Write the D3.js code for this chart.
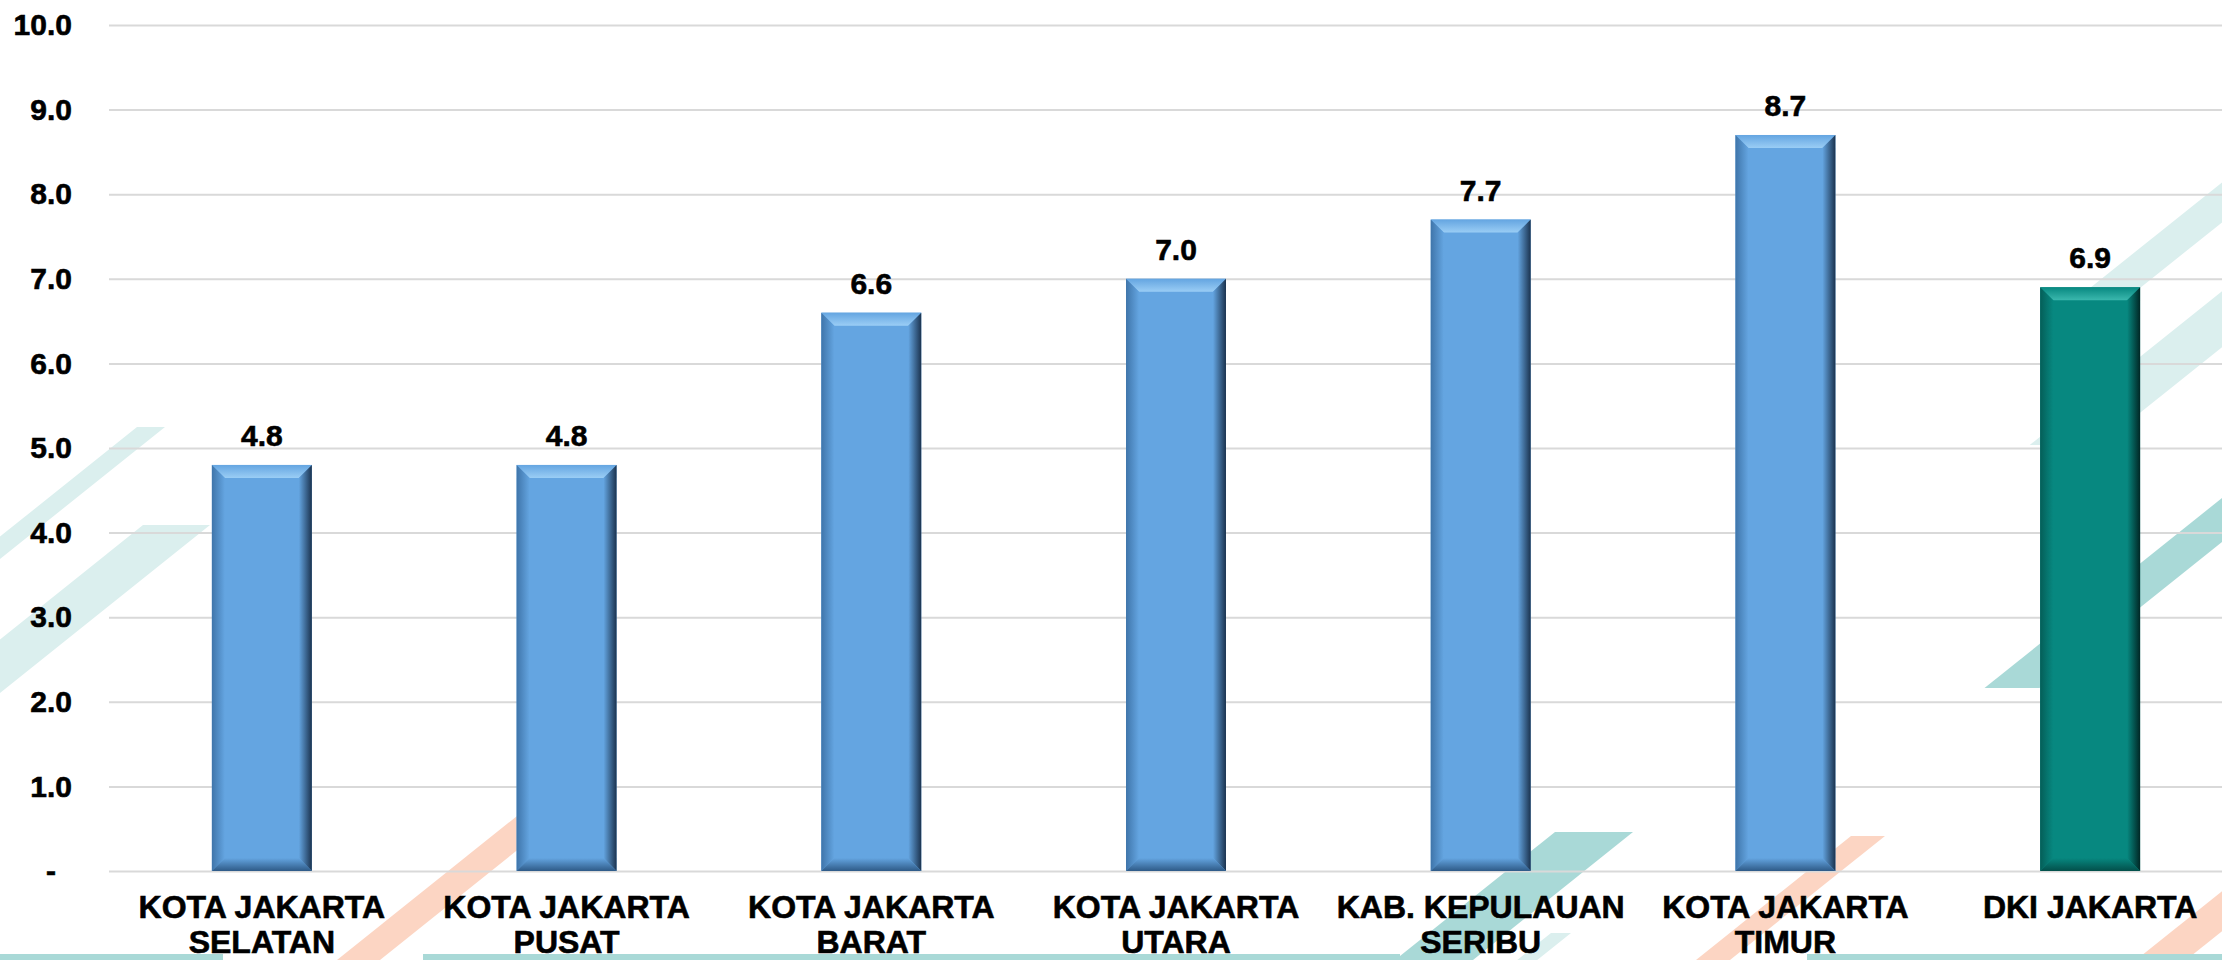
<!DOCTYPE html>
<html>
<head>
<meta charset="utf-8">
<script src="https://cdn.jsdelivr.net/npm/d3@7"></script>
<style>
  html, body { margin: 0; padding: 0; background: #ffffff; }
  svg { display: block; }
</style>
</head>
<body>
<div id="chart"></div>
<script>
// data
const categories = [
    "KOTA JAKARTA\nSELATAN",
    "KOTA JAKARTA\nPUSAT",
    "KOTA JAKARTA\nBARAT",
    "KOTA JAKARTA\nUTARA",
    "KAB. KEPULAUAN\nSERIBU",
    "KOTA JAKARTA\nTIMUR",
    "DKI JAKARTA"
];
const values = [4.8, 4.8, 6.6, 7.0, 7.7, 8.7, 6.9];
const yTicks = [0, 1, 2, 3, 4, 5, 6, 7, 8, 9, 10];
const totalLabel = "DKI JAKARTA";

// background slide stripes (decoration only): [topY, xLeftTop, xRightTop, bottomY, colour]
const stripes = [
    [427, 137, 165, 700, "#DBEFEE"],
    [525, 143, 210, 760, "#DBEFEE"],
    [100, 2325, 2375, 300, "#DBEFEE"],
    [200, 2336, 2406, 445, "#DBEFEE"],
    [470, 2257, 2312, 688, "#A9D9D7"],
    [832, 1555, 1633, 960, "#A9D9D7"],
    [933, 1551, 1571, 960, "#DBEFEE"],
    [800, 537, 580, 960, "#FCD5C3"],
    [836, 1851, 1885, 960, "#FCD5C3"],
    [840, 2286, 2336, 960, "#FCD5C3"]
];
const bands = [[0, 223], [423, 1400], [1807, 2222]];

const W = 2222, H = 960;
const font = "'Liberation Sans', Arial, Helvetica, sans-serif";
const slope = 0.8;

const svg = d3.select("#chart").append("svg")
    .attr("width", W)
    .attr("height", H)
    .attr("viewBox", `0 0 ${W} ${H}`);

// gradients for the bevelled bars
const defs = svg.append("defs");
const palettes = {
    blue: {main: "#64A5E1", top: "#9ACDF5", left: "#3F75AA", right: "#1B334F", bottom: "#2E5A87"},
    teal: {main: "#078880", top: "#3BB8AE", left: "#045E58", right: "#012725", bottom: "#034F4A"}
};
Object.entries(palettes).forEach(([k, p]) => {
    const grad = (id, x1, y1, x2, y2, c1, c2) => {
        const g = defs.append("linearGradient").attr("id", id)
            .attr("x1", x1).attr("y1", y1).attr("x2", x2).attr("y2", y2);
        g.append("stop").attr("offset", "0%").attr("stop-color", c1);
        g.append("stop").attr("offset", "100%").attr("stop-color", c2);
    };
    grad(k + "-top", 0, 0, 0, 1, p.main, p.top);
    grad(k + "-left", 0, 0, 1, 0, p.left, p.main);
    grad(k + "-right", 0, 0, 1, 0, p.main, p.right);
    grad(k + "-bottom", 0, 0, 0, 1, p.main, p.bottom);
});

// decoration
const deco = svg.append("g").attr("class", "deco");
deco.selectAll("polygon")
    .data(stripes)
    .join("polygon")
        .attr("points", d => {
            const [yt, xl, xr, yb] = d;
            const dx = (yb - yt) / slope;
            return [[xl, yt], [xr, yt], [xr - dx, yb], [xl - dx, yb]].join(" ");
        })
        .attr("fill", d => d[4]);
deco.selectAll("rect")
    .data(bands)
    .join("rect")
        .attr("x", d => d[0])
        .attr("y", 954)
        .attr("width", d => d[1] - d[0])
        .attr("height", 6)
        .attr("fill", "#A9D9D7");

// scales
const x = d3.scaleBand()
    .domain(categories)
    .range([109.5, 2242.5])
    .paddingInner(0.672)
    .paddingOuter(0.336);

const y = d3.scaleLinear()
    .domain([0, 10])
    .range([871, 25]);

// y axis with gridlines
const yAxis = svg.append("g")
    .attr("transform", "translate(109,0)")
    .call(d3.axisLeft(y)
        .tickValues(yTicks)
        .tickSize(-(W - 109))
        .tickPadding(37)
        .tickFormat(d => d === 0 ? "-" : d.toFixed(1)));

yAxis.select(".domain").remove();
yAxis.selectAll(".tick line")
    .attr("stroke", "#D9D9D9")
    .attr("stroke-width", 2);
yAxis.selectAll(".tick text")
    .style("font-family", font)
    .style("font-size", "30px")
    .style("font-weight", 700)
    .attr("fill", "#000000")
    .attr("stroke", "#000000")
    .attr("stroke-width", 0.6)
    .attr("dx", d => d === 0 ? -16 : 0);

// bars
const bev = 13;
const bars = svg.selectAll(".bar")
    .data(categories.map((c, i) => ({cat: c, value: values[i]})))
    .join("g")
        .attr("class", "bar");

bars.each(function(d) {
    const g = d3.select(this);
    const k = d.cat === totalLabel ? "teal" : "blue";
    const x0 = x(d.cat), x1 = x(d.cat) + x.bandwidth();
    const y0 = y(d.value), y1 = y(0);
    g.append("rect")
        .attr("x", x0).attr("y", y0)
        .attr("width", x1 - x0).attr("height", y1 - y0)
        .attr("fill", palettes[k].main);
    g.append("polygon")
        .attr("points", [[x0, y0], [x1, y0], [x1 - bev, y0 + bev], [x0 + bev, y0 + bev]].join(" "))
        .attr("fill", `url(#${k}-top)`);
    g.append("polygon")
        .attr("points", [[x0, y0], [x0 + bev, y0 + bev], [x0 + bev, y1 - bev], [x0, y1]].join(" "))
        .attr("fill", `url(#${k}-left)`);
    g.append("polygon")
        .attr("points", [[x1, y0], [x1, y1], [x1 - bev, y1 - bev], [x1 - bev, y0 + bev]].join(" "))
        .attr("fill", `url(#${k}-right)`);
    g.append("polygon")
        .attr("points", [[x0, y1], [x0 + bev, y1 - bev], [x1 - bev, y1 - bev], [x1, y1]].join(" "))
        .attr("fill", `url(#${k}-bottom)`);
});

// value labels
svg.selectAll(".value-label")
    .data(categories.map((c, i) => ({cat: c, value: values[i]})))
    .join("text")
        .attr("class", "value-label")
        .attr("x", d => x(d.cat) + x.bandwidth() / 2)
        .attr("y", d => y(d.value) - 19)
        .attr("text-anchor", "middle")
        .style("font-family", font)
        .style("font-size", "30px")
        .style("font-weight", 700)
        .attr("fill", "#000000")
        .attr("stroke", "#000000")
        .attr("stroke-width", 0.6)
        .text(d => d.value.toFixed(1));

// category labels
const catLabels = svg.selectAll(".cat-label")
    .data(categories)
    .join("text")
        .attr("class", "cat-label")
        .attr("text-anchor", "middle")
        .style("font-family", font)
        .style("font-size", "32px")
        .style("font-weight", 700)
        .attr("fill", "#000000")
        .attr("stroke", "#000000")
        .attr("stroke-width", 0.6);

catLabels.selectAll("tspan")
    .data(d => d.split("\n").map(line => ({line, cat: d})))
    .join("tspan")
        .attr("x", d => x(d.cat) + x.bandwidth() / 2)
        .attr("y", (d, i) => 918 + i * 35)
        .text(d => d.line);
</script>
</body>
</html>
